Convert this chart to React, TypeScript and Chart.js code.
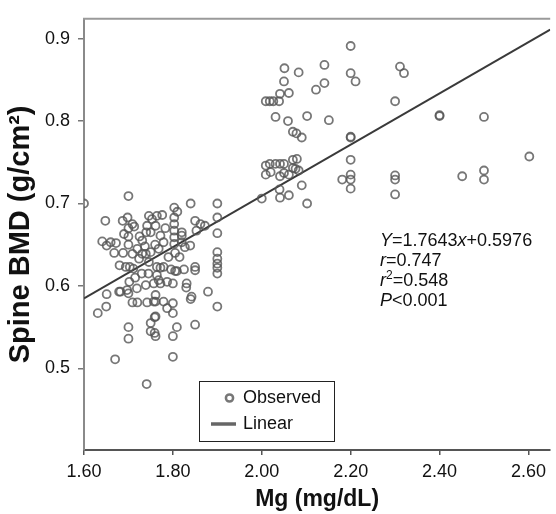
import React, { useEffect, useRef } from "react";
import { Chart, registerables } from "chart.js";

Chart.register(...registerables);

// Observed points (Mg mg/dL, Spine BMD g/cm2)
const observedX = [
  1.600, 1.648, 1.641, 1.651, 1.668, 1.660, 1.672, 1.651, 1.679, 1.682,
  1.700, 1.650, 1.631, 1.670, 1.700, 1.687, 1.698, 1.709, 1.700, 1.690,
  1.700, 1.713, 1.700, 1.709, 1.720, 1.731, 1.724, 1.739, 1.750, 1.746,
  1.694, 1.703, 1.711, 1.702, 1.697, 1.719, 1.739, 1.757, 1.709, 1.720,
  1.742, 1.757, 1.700, 1.700, 1.741, 1.750, 1.759, 1.750, 1.759, 1.761,
  1.746, 1.753, 1.742, 1.750, 1.731, 1.737, 1.761, 1.764, 1.772, 1.779,
  1.768, 1.790, 1.805, 1.803, 1.803, 1.803, 1.803, 1.803, 1.803, 1.810,
  1.820, 1.820, 1.820, 1.827, 1.840, 1.850, 1.872, 1.862, 1.853, 1.839,
  1.900, 1.900, 1.900, 1.900, 1.900, 1.900, 1.900, 1.900, 1.850, 1.850,
  1.796, 1.805, 1.809, 1.764, 1.772, 1.779, 1.764, 1.768, 1.772, 1.787,
  1.800, 1.831, 1.830, 1.879, 1.761, 1.761, 1.779, 1.787, 1.800, 1.800,
  1.840, 1.842, 1.900, 1.850, 1.809, 1.800, 1.800, 1.761, 1.783, 1.776,
  1.760, 1.745, 1.730, 1.715, 1.725, 1.740, 1.688, 1.680, 1.815, 1.825,
  2.000, 2.009, 2.018, 2.026, 2.039, 2.031, 2.041, 2.061, 2.050, 2.051,
  2.083, 2.059, 2.070, 2.078, 2.090, 2.102, 2.009, 2.018, 2.031, 2.041,
  2.050, 2.009, 2.020, 2.041, 2.050, 2.061, 2.070, 2.076, 2.070, 2.079,
  2.083, 2.090, 2.040, 2.041, 2.061, 2.102, 2.141, 2.200, 2.200, 2.211,
  2.141, 2.122, 2.311, 2.320, 2.300, 2.151, 2.400, 2.400, 2.500, 2.200,
  2.200, 2.200, 2.181, 2.200, 2.200, 2.200, 2.300, 2.300, 2.300, 2.451,
  2.500, 2.500, 2.602,
];
const observedY = [
  0.700, 0.679, 0.654, 0.649, 0.640, 0.653, 0.652, 0.590, 0.593, 0.593,
  0.591, 0.575, 0.567, 0.511, 0.709, 0.679, 0.683, 0.675, 0.670, 0.663,
  0.660, 0.672, 0.650, 0.639, 0.645, 0.639, 0.633, 0.639, 0.641, 0.629,
  0.623, 0.623, 0.621, 0.605, 0.595, 0.597, 0.601, 0.603, 0.580, 0.580,
  0.580, 0.581, 0.550, 0.536, 0.481, 0.555, 0.562, 0.545, 0.543, 0.539,
  0.685, 0.681, 0.673, 0.665, 0.655, 0.648, 0.673, 0.685, 0.661, 0.653,
  0.645, 0.635, 0.640, 0.695, 0.683, 0.675, 0.667, 0.659, 0.651, 0.690,
  0.665, 0.661, 0.653, 0.647, 0.700, 0.679, 0.673, 0.675, 0.667, 0.649,
  0.700, 0.683, 0.664, 0.641, 0.633, 0.627, 0.622, 0.615, 0.623, 0.619,
  0.620, 0.618, 0.618, 0.623, 0.622, 0.623, 0.613, 0.607, 0.603, 0.605,
  0.603, 0.603, 0.598, 0.593, 0.589, 0.581, 0.581, 0.573, 0.579, 0.567,
  0.584, 0.587, 0.575, 0.553, 0.550, 0.539, 0.514, 0.563, 0.670, 0.686,
  0.650, 0.615, 0.615, 0.610, 0.660, 0.665, 0.640, 0.625, 0.635, 0.620,
  0.706, 0.824, 0.824, 0.824, 0.824, 0.805, 0.833, 0.834, 0.848, 0.864,
  0.859, 0.800, 0.787, 0.785, 0.780, 0.806, 0.746, 0.748, 0.748, 0.748,
  0.748, 0.735, 0.738, 0.733, 0.737, 0.735, 0.743, 0.742, 0.753, 0.754,
  0.740, 0.722, 0.717, 0.707, 0.710, 0.700, 0.868, 0.891, 0.858, 0.848,
  0.846, 0.838, 0.866, 0.858, 0.824, 0.801, 0.806, 0.807, 0.805, 0.780,
  0.781, 0.753, 0.729, 0.735, 0.729, 0.718, 0.734, 0.729, 0.711, 0.733,
  0.740, 0.729, 0.757,
];

// Fitted line end points (as drawn in the picture)
const linearX = [1.6, 2.649];
const linearY = [0.585, 0.911];

const xTicks = [1.6, 1.8, 2.0, 2.2, 2.4, 2.6];
const xTickLabels = ["1.60", "1.80", "2.00", "2.20", "2.40", "2.60"];
const yTicks = [0.5, 0.6, 0.7, 0.8, 0.9];
const yTickLabels = ["0.5", "0.6", "0.7", "0.8", "0.9"];

const xTitle = "Mg (mg/dL)";
const yTitle = "Spine BMD (g/cm²)";
const legendLabels = ["Observed", "Linear"];

type Seg = { t: string; i?: boolean; sup?: boolean };
const statLines: Seg[][] = [
  [{ t: "Y", i: true }, { t: "=1.7643" }, { t: "x", i: true }, { t: "+0.5976" }],
  [{ t: "r", i: true }, { t: "=0.747" }],
  [{ t: "r", i: true }, { t: "2", sup: true }, { t: "=0.548" }],
  [{ t: "P", i: true }, { t: "<0.001" }],
];

const FONT = "'Liberation Sans', Arial, sans-serif";
const FS = 18;

const overlayPlugin = {
  id: "overlay",
  afterDraw(chart: any) {
    const { ctx, chartArea } = chart;
    ctx.save();
    // top frame line
    ctx.strokeStyle = "#9a9a9a";
    ctx.lineWidth = 2;
    ctx.beginPath();
    ctx.moveTo(chartArea.left - 1, chartArea.top);
    ctx.lineTo(chartArea.right, chartArea.top);
    ctx.stroke();

    // stats text
    ctx.fillStyle = "#111";
    ctx.textBaseline = "middle";
    ctx.textAlign = "left";
    const sx = 380;
    const sy0 = 241;
    const dy = 20;
    statLines.forEach((segs, li) => {
      let x = sx;
      const y = sy0 + li * dy;
      segs.forEach((s) => {
        const size = s.sup ? 12 : FS;
        ctx.font = `${s.i ? "italic " : ""}${size}px ${FONT}`;
        ctx.fillText(s.t, x, s.sup ? y - 5 : y);
        x += ctx.measureText(s.t).width;
      });
    });

    // legend box
    const lx = 199, ly = 381, lw = 135, lh = 60;
    ctx.strokeStyle = "#222";
    ctx.lineWidth = 1;
    ctx.strokeRect(lx + 0.5, ly + 0.5, lw, lh);
    ctx.strokeStyle = "#777";
    ctx.lineWidth = 2.5;
    ctx.beginPath();
    ctx.arc(229.5, 398, 3.6, 0, Math.PI * 2);
    ctx.stroke();
    ctx.strokeStyle = "#666";
    ctx.lineWidth = 3.5;
    ctx.beginPath();
    ctx.moveTo(211, 424);
    ctx.lineTo(236, 424);
    ctx.stroke();
    ctx.fillStyle = "#111";
    ctx.font = `${FS}px ${FONT}`;
    ctx.fillText(legendLabels[0], 243, 398);
    ctx.fillText(legendLabels[1], 243, 424);
    ctx.restore();
  },
};

export default function App() {
  const ref = useRef<HTMLCanvasElement | null>(null);
  useEffect(() => {
    document.body.style.margin = "0";
    const canvas = ref.current;
    if (!canvas) return;
    const chart = new Chart(canvas, {
      type: "scatter",
      data: {
        datasets: [
          {
            label: legendLabels[0],
            data: observedX.map((x, i) => ({ x, y: observedY[i] })),
            pointRadius: 4,
            pointHoverRadius: 4,
            pointBorderWidth: 1.8,
            borderColor: "rgba(85,85,85,0.8)",
            backgroundColor: "rgba(0,0,0,0)",
            showLine: false,
          },
          {
            label: legendLabels[1],
            type: "line",
            data: linearX.map((x, i) => ({ x, y: linearY[i] })),
            borderColor: "#3a3a3a",
            borderWidth: 2,
            pointRadius: 0,
            fill: false,
          } as any,
        ],
      },
      options: {
        responsive: false,
        animation: false,
        layout: { padding: { top: 14, right: 0, left: 0, bottom: 0 } },
        plugins: { legend: { display: false }, tooltip: { enabled: false } },
        scales: {
          x: {
            type: "linear",
            min: 1.6,
            max: 2.649,
            afterBuildTicks: (s: any) => {
              s.ticks = xTicks.map((v) => ({ value: v }));
            },
            afterFit: (s: any) => {
              s.height = 64;
            },
            ticks: {
              callback: (_v: any, i: number) => xTickLabels[i],
              font: { family: FONT, size: FS },
              color: "#111",
              padding: 6,
              maxRotation: 0,
            },
            grid: {
              display: true,
              drawOnChartArea: false,
              drawTicks: true,
              tickLength: 5,
              color: "#555",
              lineWidth: 1.5,
            },
            border: { display: true, color: "#555", width: 2 },
            title: {
              display: true,
              text: xTitle,
              font: { family: FONT, size: 23, weight: "bold" },
              color: "#111",
              padding: { top: 0, bottom: 1 },
            },
          },
          y: {
            type: "linear",
            min: 0.401,
            max: 0.924,
            afterBuildTicks: (s: any) => {
              s.ticks = yTicks.map((v) => ({ value: v }));
            },
            afterFit: (s: any) => {
              s.width = 84;
            },
            ticks: {
              callback: (_v: any, i: number) => yTickLabels[i],
              font: { family: FONT, size: FS },
              color: "#111",
              padding: 8,
            },
            grid: {
              display: true,
              drawOnChartArea: false,
              drawTicks: true,
              tickLength: 6,
              color: "#777",
              lineWidth: 1.5,
            },
            border: { display: true, color: "#8a8a8a", width: 2 },
            title: {
              display: true,
              text: yTitle,
              font: { family: FONT, size: 29, weight: "bold" },
              color: "#111",
              padding: { top: 4, bottom: 0 },
            },
          },
        },
      },
      plugins: [overlayPlugin],
    });
    return () => chart.destroy();
  }, []);
  return (
    <div style={{ width: 556, height: 514 }}>
      <canvas ref={ref} width={556} height={514} />
    </div>
  );
}
